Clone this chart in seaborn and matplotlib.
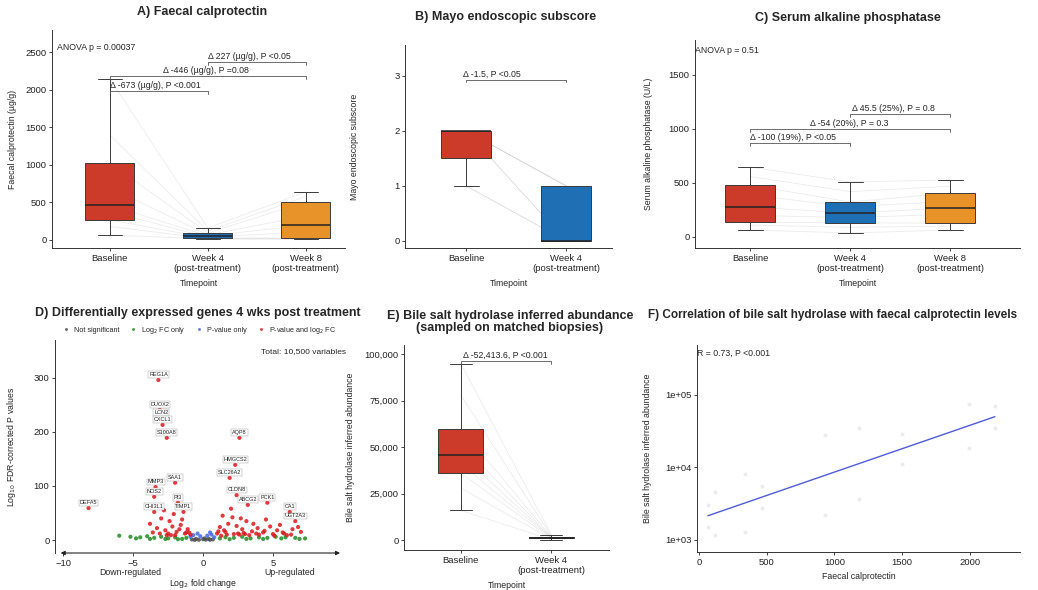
import numpy as np
import pandas as pd
import matplotlib
matplotlib.use("Agg")
import matplotlib.pyplot as plt
import matplotlib.transforms as mtrans
import seaborn as sns

# ---------------- data ----------------
timepoints = ["Baseline", "Week 4\n(post-treatment)", "Week 8\n(post-treatment)"]
tp_colors = ["#CC3B29", "#1F6FB5", "#E8922A"]

# A) faecal calprotectin (ug/g), one value per subject
calpro_base = [67, 180, 267, 380, 467, 700, 1027, 1400, 2150]
calpro_wk4 = [12, 20, 27, 35, 53, 68, 93, 120, 160]
calpro_wk8 = [10, 18, 27, 110, 200, 320, 507, 580, 640]

# B) Mayo endoscopic subscore
mayo_base = [1, 1, 2, 2, 2, 2, 2]
mayo_wk4 = [0, 0, 0, 0, 1, 1, 1]

# C) serum alkaline phosphatase (U/L)
alp_base = [65, 110, 139, 200, 278, 390, 481, 560, 648]
alp_wk4 = [37, 90, 130, 180, 222, 280, 324, 420, 509]
alp_wk8 = [65, 100, 130, 210, 268, 330, 407, 470, 528]

# E) bile salt hydrolase inferred abundance
bsh_base = [16000, 28000, 36000, 41000, 46000, 52000, 60000, 78000, 95000]
bsh_wk4 = [300, 600, 900, 1100, 1300, 1500, 1800, 2300, 3000]

# D) volcano plot
label_genes = ["REG1A", "DUOX2", "LCN2", "CXCL1", "S100A8", "AQP8", "HMGCS2", "SLC26A2",
               "MMP3", "SAA1", "NOS2", "PI3", "CHI3L1", "TIMP1", "CLDN8", "ABCG2",
               "PCK1", "CA1", "UGT2A3", "DEFA5"]
label_x = [-3.2, -3.1, -3.0, -2.9, -2.6, 2.6, 2.3, 1.9, -3.4, -2.0, -3.5, -1.8, -3.5, -1.4,
           2.4, 3.2, 4.6, 6.2, 6.6, -8.2]
label_y = [296, 241, 226, 213, 189, 189, 139, 115, 98, 106, 80, 69, 52, 52, 83, 65, 69, 52, 35, 59]
sig_x = [-3.8, -3.3, -3.0, -2.7, -2.4, -2.2, -1.9, -1.6, -1.3, -1.1, -0.9, 1.0, 1.2, 1.5, 1.8,
         2.1, 2.4, 2.8, 3.1, 3.5, 3.9, 4.3, 4.8, 5.3, 5.8, 6.4, 7.0, -2.8, -2.1, -1.5, 1.4, 2.0,
         2.7, 3.6, 4.5, 5.5, -3.6, -2.5, 1.7, 3.0, -2.3, -1.2, 1.1, 2.5, 4.0, 5.0, 6.0, 6.8,
         -3.1, -2.6, -1.7, -1.0, 1.3, 1.6, 2.2, 2.9, 3.3, 3.8, 4.4, 5.1, 5.7, 6.3, -2.0, 2.6]
sig_y = [30, 22, 40, 18, 35, 25, 15, 28, 12, 20, 10, 12, 24, 18, 30, 42, 26, 20, 35, 16, 22, 14,
         25, 18, 12, 20, 15, 55, 48, 38, 45, 58, 40, 30, 38, 28, 14, 12, 10, 11, 9, 14, 16, 12,
         10, 11, 9, 24, 12, 9, 20, 14, 8, 15, 11, 13, 9, 12, 17, 8, 14, 10, 9, 10]
fc_x = [-6.0, -5.2, -4.5, -4.0, -3.5, -3.0, -2.5, -2.0, -1.5, -1.2, 1.2, 1.6, 2.2, 2.8, 3.4,
        4.0, 4.6, 5.2, 5.9, 6.6, 7.3, -4.8, -3.8, -2.7, -1.8, 1.9, 3.1, 4.3, 5.6, 6.9]
fc_y = [8, 6, 5, 7, 4, 6, 3, 5, 2, 4, 3, 5, 4, 6, 3, 5, 4, 6, 5, 4, 3, 3, 2, 2, 1.5, 1.5, 2, 2, 3, 2]
p_x = [-0.9, -0.7, -0.4, 0.3, 0.6, 0.8, -0.2, 0.5]
p_y = [6, 9, 12, 8, 10, 5, 7, 14]
ns_x = [-0.8, -0.5, -0.3, 0.0, 0.2, 0.4, 0.7, -0.6, 0.5, 0.1]
ns_y = [1, 2, 0.5, 1.5, 0.8, 2.2, 1.2, 0.3, 0.4, 3]
vol_groups = ["Not significant", "Log$_2$ FC only", "P-value only", "P-value and log$_2$ FC"]
vol_colors = ["#4D4D4D", "#228B22", "#4169E1", "#D7191C"]

# F) correlation
corr_calpro = [66, 66, 120, 120, 340, 340, 465, 465, 930, 930, 1180, 1180, 1500, 1500,
               1990, 1990, 2185, 2185]
corr_bsh = [1514, 3020, 1175, 4571, 8128, 1288, 2754, 5495, 2188, 27542, 34674, 3631,
            11220, 28840, 18621, 75858, 35481, 70795]

# ---------------- figure ----------------
sns.set_theme(style="ticks")
plt.rcParams["font.family"] = ["Liberation Sans", "DejaVu Sans"]

W, H = 1038, 590
TICK = 6.8
LAB = 6.3
fig = plt.figure(figsize=(W / 100, H / 100), dpi=100)
fig.patch.set_facecolor("white")


def add_ax(l, t, r, b):
    return fig.add_axes([l / W, 1 - b / H, (r - l) / W, (b - t) / H])


def ftext(x, y, s, **kw):
    fig.text(x / W, 1 - y / H, s, **kw)


def style(ax):
    sns.despine(ax=ax)
    for s in ["left", "bottom"]:
        ax.spines[s].set_color("#333333")
        ax.spines[s].set_linewidth(0.7)
    ax.tick_params(labelsize=TICK, length=2.5, width=0.6, colors="#222222", pad=1.5)
    ax.set_facecolor("white")


def paired_box(ax, series, ylabel):
    labels = timepoints[:len(series)]
    rows = []
    for t, vals in enumerate(series):
        for i, v in enumerate(vals):
            rows.append({"subject": i, "timepoint": labels[t], "pos": t, "value": v})
    df = pd.DataFrame(rows)
    sns.lineplot(data=df, x="pos", y="value", units="subject", estimator=None,
                 color="#a0a0a0", alpha=0.2, lw=0.6, ax=ax, zorder=0)
    sns.boxplot(data=df, x="timepoint", y="value", hue="timepoint", order=labels,
                hue_order=labels, palette=dict(zip(labels, tp_colors)), width=0.5,
                saturation=1, showfliers=False, linewidth=0.7, linecolor="#3a3a3a",
                legend=False, ax=ax, medianprops=dict(color="#222222", linewidth=1.1))
    ax.set_xlabel("Timepoint", fontsize=LAB)
    ax.set_ylabel(ylabel, fontsize=LAB)
    style(ax)


def bracket(ax, x1, x2, y, tick, xt, text):
    ax.plot([x1, x1, x2, x2], [y - tick, y, y, y - tick], color="#555555", lw=0.6)
    ax.text(xt, y + tick * 0.3, text, fontsize=6.3, ha="left", va="bottom")


TITLE = dict(fontsize=9, fontweight="bold", va="center")

# A
axA = add_ax(52, 30, 345, 248)
paired_box(axA, [calpro_base, calpro_wk4, calpro_wk8], "Faecal calprotectin (µg/g)")
axA.set_xlim(-0.59, 2.4)
axA.set_ylim(-107, 2800)
axA.set_yticks([0, 500, 1000, 1500, 2000, 2500])
axA.text(-0.54, 2560, "ANOVA p = 0.00037", fontsize=6.3, va="center")
bracket(axA, 0, 1, 1990, 40, 0.0, "Δ -673 (µg/g), P <0.001")
bracket(axA, 0, 2, 2190, 40, 0.54, "Δ -446 (µg/g), P =0.08")
bracket(axA, 1, 2, 2370, 40, 1.0, "Δ 227 (µg/g), P <0.05")
axA.yaxis.set_label_coords(-0.12, 0.5)
ftext(202, 12, "A) Faecal calprotectin", ha="center", **TITLE)

# B
axB = add_ax(405, 45, 612, 248)
paired_box(axB, [mayo_base, mayo_wk4], "Mayo endoscopic subscore")
axB.set_xlim(-0.61, 1.46)
axB.set_ylim(-0.13, 3.56)
axB.set_yticks([0, 1, 2, 3])
bracket(axB, 0, 1, 2.93, 0.05, -0.03, "Δ -1.5, P <0.05")
axB.yaxis.set_label_coords(-0.22, 0.5)
ftext(506, 17, "B) Mayo endoscopic subscore", ha="center", **TITLE)

# C
axC = add_ax(695, 40, 1020, 248)
paired_box(axC, [alp_base, alp_wk4, alp_wk8], "Serum alkaline phosphatase (U/L)")
axC.set_xlim(-0.55, 2.7)
axC.set_ylim(-102, 1824)
axC.set_yticks([0, 500, 1000, 1500])
axC.text(-0.55, 1731, "ANOVA p = 0.51", fontsize=6.3, va="center")
bracket(axC, 0, 1, 870, 25, 0.0, "Δ -100 (19%), P <0.05")
bracket(axC, 0, 2, 1000, 25, 0.6, "Δ -54 (20%), P = 0.3")
bracket(axC, 1, 2, 1140, 25, 1.02, "Δ 45.5 (25%), P = 0.8")
axC.yaxis.set_label_coords(-0.13, 0.5)
ftext(848, 18, "C) Serum alkaline phosphatase", ha="center", **TITLE)

# D volcano
axD = add_ax(55, 340, 340, 553)
vol = pd.DataFrame({
    "lfc": ns_x + fc_x + p_x + sig_x + label_x,
    "logp": ns_y + fc_y + p_y + sig_y + label_y,
    "group": [vol_groups[0]] * len(ns_x) + [vol_groups[1]] * len(fc_x)
    + [vol_groups[2]] * len(p_x) + [vol_groups[3]] * (len(sig_x) + len(label_x)),
})
sns.scatterplot(data=vol, x="lfc", y="logp", hue="group", hue_order=vol_groups,
                palette=dict(zip(vol_groups, vol_colors)), s=9, linewidth=0, alpha=0.85, ax=axD)
for g, x, y in zip(label_genes, label_x, label_y):
    axD.text(x, y + 5, g, fontsize=4, ha="center", va="bottom", color="#222222",
             bbox=dict(boxstyle="square,pad=0.15", fc="white", ec="#999999", lw=0.3))
style(axD)
axD.spines["bottom"].set_visible(False)
axD.set_xlim(-10.6, 9.8)
axD.set_ylim(-24, 370)
axD.set_xticks([-10, -5, 0, 5])
axD.set_yticks([0, 100, 200, 300])
axD.annotate("", xy=(1.01, 0), xytext=(0.01, 0), xycoords="axes fraction",
             arrowprops=dict(arrowstyle="<|-|>", color="#222222", lw=0.8, mutation_scale=6),
             annotation_clip=False)
sns.move_legend(axD, "lower center", bbox_to_anchor=(0.5, 1.0), ncol=4, title=None,
                frameon=False, fontsize=5.2, handletextpad=0.1, columnspacing=0.9,
                markerscale=0.7, borderaxespad=0.2)
trD = mtrans.blended_transform_factory(axD.transData, axD.transAxes)
axD.text(-5.2, -0.09, "Down-regulated", transform=trD, fontsize=LAB, ha="center", va="center")
axD.text(6.2, -0.09, "Up-regulated", transform=trD, fontsize=LAB, ha="center", va="center")
axD.set_xlabel("Log$_2$ fold change", fontsize=LAB)
axD.xaxis.set_label_coords(0.52, -0.115)
axD.set_ylabel("Log$_{10}$ FDR-corrected P values", fontsize=LAB)
axD.yaxis.set_label_coords(-0.13, 0.5)
axD.text(1.02, 0.944, "Total: 10,500 variables", transform=axD.transAxes, fontsize=6,
         ha="right", va="center")
ftext(35, 313, "D) Differentially expressed genes 4 wks post treatment", ha="left", **TITLE)

# E
axE = add_ax(404, 345, 609, 550)
paired_box(axE, [bsh_base, bsh_wk4], "Bile salt hydrolase inferred abundance")
axE.set_xlim(-0.63, 1.64)
axE.set_ylim(-5300, 105000)
axE.set_yticks([0, 25000, 50000, 75000, 100000], ["0", "25,000", "50,000", "75,000", "100,000"])
bracket(axE, 0, 1, 96500, 1500, 0.02, "Δ -52,413.6, P <0.001")
axE.yaxis.set_label_coords(-0.24, 0.5)
ftext(510, 322, "E) Bile salt hydrolase inferred abundance\n(sampled on matched biopsies)",
      ha="center", linespacing=1.1, **TITLE)

# F
axF = add_ax(697, 345, 1020, 552)
sns.regplot(x=corr_calpro, y=np.log10(corr_bsh), ci=None, ax=axF,
            scatter_kws=dict(s=8, color="#c8c8c8", alpha=0.35, linewidths=0),
            line_kws=dict(color="#4F5BD5", lw=1.0))
style(axF)
axF.set_xlim(-15, 2370)
axF.set_ylim(2.83, 5.69)
axF.set_xticks([0, 500, 1000, 1500, 2000])
axF.set_yticks([3, 4, 5], ["1e+03", "1e+04", "1e+05"])
axF.set_xlabel("Faecal calprotectin", fontsize=LAB)
axF.set_ylabel("Bile salt hydrolase inferred abundance", fontsize=LAB)
axF.yaxis.set_label_coords(-0.14, 0.5)
axF.text(0.0, 0.96, "R = 0.73, P <0.001", transform=axF.transAxes, fontsize=6.3, va="center")
ftext(648, 315, "F) Correlation of bile salt hydrolase with faecal calprotectin levels",
      ha="left", fontsize=8.5, fontweight="bold", va="center")

fig.savefig("out.png", dpi=100, facecolor="white")
